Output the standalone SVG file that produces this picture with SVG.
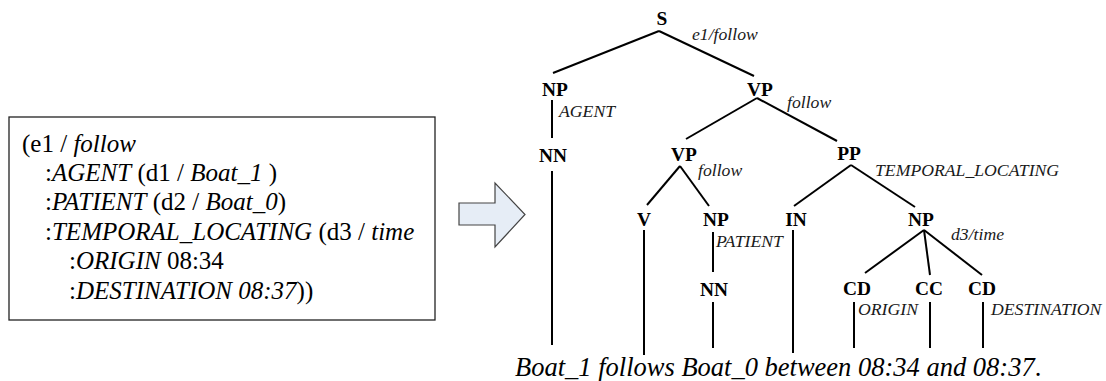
<svg xmlns="http://www.w3.org/2000/svg" width="1106" height="381" viewBox="0 0 1106 381">
<style>
.amr{font-family:"Liberation Serif","Times New Roman",serif;font-size:25px;fill:#000}
.i{font-style:italic}
.node{font-family:"Liberation Serif","Times New Roman",serif;font-size:19.4px;font-weight:bold;fill:#000;text-anchor:middle}
.lab{font-family:"Liberation Serif","Times New Roman",serif;font-size:17.7px;font-style:italic;fill:#1a1a1a}
.sent{font-family:"Liberation Serif","Times New Roman",serif;font-size:26.5px;font-style:italic;fill:#000}
.edge{stroke:#000;stroke-width:2;fill:none;stroke-linecap:butt}
</style>
<rect width="1106" height="381" fill="#fff"/>
<g id="amr-box">
<rect x="9" y="117" width="426" height="203" fill="#fff" stroke="#222" stroke-width="1.3"/>
<text class="amr" x="22" y="152">(e1 / <tspan class="i">follow</tspan></text>
<text class="amr" x="45" y="181">:<tspan class="i">AGENT</tspan> (d1 / <tspan class="i">Boat_1</tspan> )</text>
<text class="amr" x="45" y="210">:<tspan class="i">PATIENT</tspan> (d2 / <tspan class="i">Boat_0</tspan>)</text>
<text class="amr" x="45" y="239.5">:<tspan class="i">TEMPORAL_LOCATING</tspan> (d3 / <tspan class="i">time</tspan></text>
<text class="amr" x="69" y="269">:<tspan class="i">ORIGIN</tspan> 08:34</text>
<text class="amr" x="69" y="298.5">:<tspan class="i">DESTINATION 08:37</tspan>))</text>
</g>
<g id="arrow">
<polygon points="459,203 495,203 495,183 525,214.5 495,247 495,225 459,225" fill="#e6edf6" stroke="#444" stroke-width="1.2" stroke-linejoin="miter"/>
</g>
<g id="connectors">
<line class="edge" x1="659" y1="31" x2="553" y2="73"/>
<line class="edge" x1="659" y1="31" x2="754" y2="76"/>
<line class="edge" x1="552" y1="100" x2="552" y2="138"/>
<line class="edge" x1="552" y1="171" x2="552" y2="345"/>
<line class="edge" x1="757" y1="98" x2="686" y2="139"/>
<line class="edge" x1="757" y1="98" x2="837" y2="141"/>
<line class="edge" x1="680" y1="166" x2="647" y2="205"/>
<line class="edge" x1="680" y1="166" x2="709" y2="206"/>
<line class="edge" x1="851" y1="165" x2="794" y2="206"/>
<line class="edge" x1="851" y1="165" x2="915" y2="207"/>
<line class="edge" x1="644" y1="230" x2="644" y2="355"/>
<line class="edge" x1="713" y1="232" x2="713" y2="272"/>
<line class="edge" x1="713" y1="302" x2="713" y2="348"/>
<line class="edge" x1="793" y1="230" x2="793" y2="353"/>
<line class="edge" x1="924" y1="230" x2="865" y2="273"/>
<line class="edge" x1="924" y1="230" x2="930" y2="275"/>
<line class="edge" x1="924" y1="230" x2="982" y2="275"/>
<line class="edge" x1="854" y1="302" x2="854" y2="348"/>
<line class="edge" x1="930" y1="302" x2="930" y2="348"/>
<line class="edge" x1="983" y1="302" x2="983" y2="348"/>
</g>
<g id="S"><text class="node" x="662" y="25">S</text><text class="lab" x="692" y="40">e1/follow</text></g>
<g id="NP-agent"><text class="node" x="555" y="96">NP</text><text class="lab" x="559" y="117">AGENT</text></g>
<g id="VP-top"><text class="node" x="760" y="96">VP</text><text class="lab" x="787" y="108">follow</text></g>
<g id="NN-agent"><text class="node" x="553" y="162">NN</text></g>
<g id="VP-lower"><text class="node" x="684" y="161">VP</text><text class="lab" x="698" y="176">follow</text></g>
<g id="PP"><text class="node" x="849" y="160">PP</text><text class="lab" x="875" y="176">TEMPORAL_LOCATING</text></g>
<g id="V"><text class="node" x="644" y="226">V</text></g>
<g id="NP-patient"><text class="node" x="716" y="226">NP</text><text class="lab" x="716" y="247">PATIENT</text></g>
<g id="IN"><text class="node" x="796" y="226">IN</text></g>
<g id="NP-time"><text class="node" x="921" y="226">NP</text><text class="lab" x="951" y="240">d3/time</text></g>
<g id="NN-patient"><text class="node" x="714" y="296">NN</text></g>
<g id="CD-origin"><text class="node" x="857" y="295">CD</text><text class="lab" x="858" y="315">ORIGIN</text></g>
<g id="CC"><text class="node" x="929" y="295">CC</text></g>
<g id="CD-destination"><text class="node" x="982" y="295">CD</text><text class="lab" x="991" y="315">DESTINATION</text></g>
<g id="sentence"><text class="sent" x="515" y="376">Boat_1 follows Boat_0 between 08:34 and 08:37<tspan font-style="normal">.</tspan></text></g>
</svg>
